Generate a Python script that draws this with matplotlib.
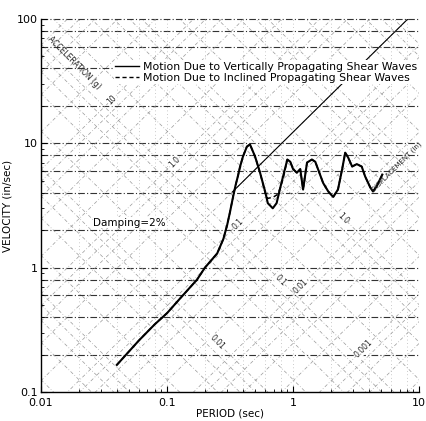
import numpy as np
import matplotlib
matplotlib.use("Agg")
import matplotlib.pyplot as plt

# ---------------- data ----------------
period_vert = [0.040, 0.06, 0.08, 0.10, 0.13, 0.173, 0.20, 0.25, 0.28, 0.30, 0.316, 0.334, 0.35, 0.366,
               0.38, 0.40, 0.43, 0.455, 0.50, 0.547, 0.60, 0.63, 0.69, 0.74, 0.80, 0.90, 0.95,
               1.00, 1.07, 1.14, 1.20, 1.29, 1.41, 1.50, 1.73, 1.90, 2.08, 2.27, 2.45,
               2.59, 2.73, 2.94, 3.20, 3.50, 3.73, 4.10, 4.30, 4.60, 5.10]
vel_vert = [0.165, 0.26, 0.35, 0.43, 0.58, 0.80, 1.0, 1.3, 1.7, 2.2, 2.8, 3.7, 4.6, 5.5,
            6.5, 7.8, 9.4, 9.8, 7.8, 5.8, 4.1, 3.3, 3.0, 3.3, 4.6, 7.4, 7.1,
            6.2, 5.8, 6.2, 4.25, 7.0, 7.4, 7.1, 4.8, 4.1, 3.7, 4.25, 6.2,
            8.4, 7.7, 6.5, 6.8, 6.5, 5.4, 4.4, 4.1, 4.5, 5.6]

period_incl = [0.040, 0.06, 0.08, 0.10, 0.13, 0.173, 0.20, 0.25, 0.28, 0.30, 0.316, 0.334, 0.35, 0.366,
               0.38, 0.40, 0.43, 0.455, 0.50, 0.547, 0.60, 0.63, 0.70, 0.76, 0.83, 0.90, 0.95,
               1.00, 1.07, 1.14, 1.20, 1.29, 1.41, 1.50, 1.73, 1.90, 2.08, 2.27, 2.45,
               2.59, 2.73, 2.94, 3.20, 3.50, 3.73, 4.10, 4.30, 4.60, 5.10]
vel_incl = [0.165, 0.26, 0.35, 0.43, 0.58, 0.80, 1.0, 1.3, 1.7, 2.2, 2.8, 3.7, 4.6, 5.5,
            6.5, 7.8, 9.4, 9.8, 7.8, 5.8, 4.0, 3.6, 3.7, 3.9, 5.1, 7.4, 7.1,
            6.2, 5.8, 6.2, 4.25, 7.0, 7.4, 7.1, 4.8, 4.1, 3.7, 4.25, 6.2,
            8.4, 7.7, 6.5, 6.8, 6.5, 5.4, 4.4, 4.1, 4.5, 5.6]

x_ticks = [0.01, 0.1, 1, 10]
x_ticklabels = ["0.01", "0.1", "1", "10"]
y_ticks = [0.1, 1, 10, 100]
y_ticklabels = ["0.1", "1", "10", "100"]

accel_labels = [10, 1, 0.1, 0.01, 0.001]          # g
accel_label_text = ["10", "1.0", "0.1", "0.01", "0.001"]
disp_labels = [0.01, 0.1, 1.0]                   # in
disp_label_text = ["0.01", "0.1", "1.0"]
ref_accel = 0.2                                   # g, straight reference line

G = 386.4  # in/s^2

plt.rcParams['font.family'] = ['DejaVu Sans']

fig = plt.figure(figsize=(4.26, 4.21), dpi=100)
ax = fig.add_axes([0.096, 0.069, 0.888, 0.886])
ax.set_xscale('log')
ax.set_yscale('log')
ax.set_xlim(0.01, 10)
ax.set_ylim(0.1, 100)

T = np.array([0.01, 10.0])
mults = [1, 2, 4, 6, 8]
grid_ls = (0, (6, 2, 1, 2))
# horizontal grid
for k in range(-1, 3):
    for m in mults:
        v = m * 10.0 ** k
        if 0.1 < v <= 100:
            ax.axhline(v, color='#333333', lw=0.8, ls=grid_ls, zorder=1, clip_on=False)
# vertical faint grid
for k in range(-2, 2):
    for m in [2, 4, 6, 8, 10]:
        xv = m * 10.0 ** k
        if 0.01 < xv <= 10:
            ax.axvline(xv, color='#999999', lw=0.5, ls=(0, (1, 4)), zorder=1)
# displacement lines (slope -1)
for k in range(-5, 3):
    for m in mults:
        d = m * 10.0 ** k
        ax.plot(T, 2 * np.pi * d / T, color='#999999', lw=0.5, ls=(0, (5, 3, 1, 3)), zorder=1)
# acceleration lines (slope +1)
for k in range(-5, 3):
    for m in mults:
        a = m * 10.0 ** k
        ax.plot(T, a * G * T / (2 * np.pi), color='#999999', lw=0.5, ls=(0, (5, 3, 1, 3)), zorder=1)

# straight reference line
Tr = np.array([0.33, 10.0])
ax.plot(Tr, ref_accel * G * Tr / (2 * np.pi), color='black', lw=0.8, zorder=2)

# spectra
ax.plot(period_vert, vel_vert, color='black', lw=1.5, zorder=4)
ax.plot(period_incl, vel_incl, color='black', lw=1.1, ls=(0, (3, 2)), zorder=3)

# acceleration labels along D ~ 0.13 in
D_axis = 0.13
for a, txt in zip(accel_labels, accel_label_text):
    t = np.sqrt(2 * np.pi * D_axis * 2 * np.pi / (a * G))
    v = 2 * np.pi * D_axis / t
    ax.text(t, v, txt, rotation=45, fontsize=5.5, ha='center', va='center', color='#222222', zorder=5,
            bbox=dict(fc='white', ec='none', pad=0.3))
ax.text(0.0185, 44, "ACCELERATION (g)", rotation=-45, fontsize=5.5, ha='center', va='center',
        color='#222222', zorder=5)

# displacement labels along V ~ T
for d, txt in zip(disp_labels, disp_label_text):
    t = np.sqrt(2 * np.pi * d)
    ax.text(t, t, txt, rotation=-45, fontsize=5.5, ha='center', va='center', color='#222222', zorder=5,
            bbox=dict(fc='white', ec='none', pad=0.3))
ax.text(6.6, 6.5, "DISPLACEMENT (in)", rotation=45, fontsize=5, ha='center', va='center',
        color='#222222', zorder=5)

ax.text(0.026, 2.3, "Damping=2%", fontsize=7.5, ha='left', va='center', zorder=5,
        bbox=dict(fc='white', ec='none', pad=0.3))

# legend
leg_h = [plt.Line2D([], [], color='black', lw=1.0),
         plt.Line2D([], [], color='black', lw=1.0, ls=(0, (3, 2)))]
leg = ax.legend(leg_h, ["Motion Due to Vertically Propagating Shear Waves",
                        "Motion Due to Inclined Propagating Shear Waves"],
                loc='upper right', bbox_to_anchor=(1.0, 0.89), fontsize=7.8, frameon=True,
                handlelength=2.2, handletextpad=0.4, labelspacing=0.1, borderpad=0.15,
                borderaxespad=0.0)
leg.get_frame().set_edgecolor('none')
leg.get_frame().set_facecolor('white')
leg.get_frame().set_alpha(1.0)
leg.set_zorder(6)

ax.set_xticks(x_ticks)
ax.set_xticklabels(x_ticklabels)
ax.set_yticks(y_ticks)
ax.set_yticklabels(y_ticklabels)
ax.tick_params(axis='both', which='major', labelsize=8, direction='in', length=4, pad=2)
ax.tick_params(axis='x', which='major', pad=4)
ax.tick_params(axis='both', which='minor', direction='in', length=2)
ax.set_xlabel("PERIOD (sec)", fontsize=7.5, labelpad=1)
ax.set_ylabel("VELOCITY (in/sec)", fontsize=7.5, labelpad=3)
for s in ['top', 'right']:
    ax.spines[s].set_visible(False)
for s in ['left', 'bottom']:
    ax.spines[s].set_linewidth(1.0)

fig.savefig("out.png", dpi=100)
